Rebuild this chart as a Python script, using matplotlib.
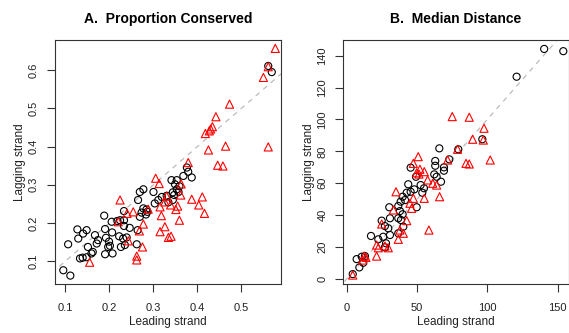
import matplotlib
matplotlib.use("Agg")
import matplotlib.pyplot as plt
import numpy as np

plt.rcParams['font.family'] = ['Liberation Sans', 'DejaVu Sans']

# Panel A: proportion conserved (leading, lagging)
a_circ_lead = [0.561, 0.569, 0.376, 0.379, 0.368, 0.387, 0.341, 0.353, 0.349, 0.359, 0.353, 0.344, 0.357,
               0.347, 0.330, 0.319, 0.311, 0.334, 0.344, 0.300, 0.303, 0.277, 0.269, 0.265, 0.277, 0.284,
               0.273, 0.283, 0.286, 0.269, 0.233, 0.224, 0.218, 0.205, 0.233, 0.188, 0.233, 0.246, 0.264,
               0.206, 0.190, 0.222, 0.239, 0.231, 0.192, 0.199, 0.201, 0.197, 0.226, 0.235, 0.262, 0.207,
               0.190, 0.167, 0.174, 0.171, 0.151, 0.162, 0.159, 0.148, 0.139, 0.133, 0.148, 0.140, 0.127,
               0.129, 0.106, 0.095, 0.111]
a_circ_lag = [0.611, 0.595, 0.345, 0.334, 0.323, 0.319, 0.312, 0.312, 0.301, 0.296, 0.288, 0.280, 0.281,
              0.273, 0.271, 0.268, 0.260, 0.254, 0.260, 0.281, 0.251, 0.288, 0.281, 0.260, 0.238, 0.235,
              0.227, 0.222, 0.229, 0.216, 0.231, 0.207, 0.205, 0.203, 0.207, 0.219, 0.192, 0.187, 0.181,
              0.175, 0.184, 0.165, 0.162, 0.159, 0.161, 0.151, 0.140, 0.137, 0.137, 0.142, 0.144, 0.120,
              0.118, 0.168, 0.155, 0.146, 0.137, 0.124, 0.120, 0.110, 0.109, 0.107, 0.181, 0.172, 0.183,
              0.159, 0.144, 0.076, 0.062]
a_tri_lead = [0.577, 0.561, 0.550, 0.473, 0.442, 0.434, 0.430, 0.427, 0.418, 0.425, 0.464, 0.561, 0.379,
              0.446, 0.458, 0.305, 0.313, 0.363, 0.362, 0.330, 0.387, 0.411, 0.403, 0.416, 0.359, 0.355,
              0.351, 0.339, 0.326, 0.315, 0.318, 0.326, 0.315, 0.334, 0.340, 0.288, 0.277, 0.268, 0.275,
              0.262, 0.262, 0.224, 0.240, 0.254, 0.220, 0.243, 0.155]
a_tri_lag = [0.657, 0.609, 0.581, 0.511, 0.478, 0.452, 0.446, 0.441, 0.434, 0.391, 0.401, 0.399, 0.358,
             0.351, 0.349, 0.317, 0.303, 0.302, 0.273, 0.270, 0.262, 0.268, 0.247, 0.225, 0.207, 0.244,
             0.235, 0.247, 0.255, 0.242, 0.219, 0.190, 0.177, 0.162, 0.165, 0.236, 0.197, 0.179, 0.137,
             0.113, 0.103, 0.260, 0.225, 0.229, 0.203, 0.153, 0.097]

# Panel B: median distance (leading, lagging)
b_circ_lead = [140.5, 154.1, 120.9, 65.9, 79.4, 96.5, 73.0, 63.0, 63.0, 45.5, 69.2, 69.2, 49.3, 62.3, 64.0,
               67.1, 52.6, 55.0, 53.8, 43.8, 42.7, 45.5, 48.1, 39.8, 38.4, 41.5, 49.8, 36.7, 30.3, 37.9,
               39.8, 36.7, 38.6, 30.8, 24.9, 27.2, 29.6, 30.8, 26.0, 22.5, 17.3, 28.0, 27.2, 36.7, 40.3,
               7.1, 10.7, 13.0, 11.8, 9.0, 4.3]
b_circ_lag = [144.2, 142.8, 126.8, 81.9, 81.3, 87.6, 75.0, 74.0, 71.0, 69.8, 70.0, 67.9, 64.1, 65.6, 64.1,
              61.0, 58.9, 56.9, 54.1, 59.4, 54.1, 54.7, 56.2, 51.6, 48.5, 49.5, 45.0, 45.8, 45.0, 42.6,
              40.6, 38.1, 37.0, 38.1, 36.6, 33.2, 31.8, 27.6, 26.5, 24.9, 27.0, 22.4, 19.9, 28.7, 32.8,
              12.5, 14.0, 14.4, 10.2, 7.3, 3.1]
b_tri_lead = [75.1, 87.2, 97.7, 89.6, 97.2, 78.9, 71.8, 50.9, 47.4, 84.9, 87.2, 102.1, 52.1, 55.2, 49.8,
              51.4, 57.6, 61.2, 64.0, 66.1, 55.2, 35.1, 47.4, 45.0, 46.2, 33.2, 42.7, 24.9, 58.5, 40.3,
              36.7, 37.9, 21.3, 22.5, 29.6, 27.2, 21.3, 12.5, 13.7, 11.4, 4.3]
b_tri_lag = [101.8, 101.4, 94.5, 87.6, 87.1, 81.3, 74.6, 76.7, 72.5, 72.5, 72.1, 74.6, 68.8, 67.3, 66.6,
             65.8, 62.1, 60.0, 58.9, 51.6, 50.6, 54.7, 50.6, 47.5, 44.3, 43.3, 36.6, 34.5, 30.7, 28.7,
             24.9, 30.7, 21.3, 19.6, 19.6, 20.7, 14.4, 14.4, 13.6, 11.9, 2.5]

titles = ["A.  Proportion Conserved", "B.  Median Distance"]
xlabel = "Leading strand"
ylabel = "Lagging strand"
a_xticks = [0.1, 0.2, 0.3, 0.4, 0.5]
a_yticks = [0.1, 0.2, 0.3, 0.4, 0.5, 0.6]
b_xticks = [0, 50, 100, 150]
b_yticks = [0, 20, 40, 60, 80, 100, 120, 140]

fig = plt.figure(figsize=(5.69, 3.33), dpi=100)
W, H = 569, 333
axA = fig.add_axes([54.5 / W, 1 - 284 / H, (281 - 54.5) / W, (284 - 40) / H])
axB = fig.add_axes([343.3 / W, 1 - 284 / H, (568.5 - 343.3) / W, (284 - 40) / H])

panels = [
    (axA, a_circ_lead, a_circ_lag, a_tri_lead, a_tri_lag, a_xticks, a_yticks, (0.075, 0.590), (0.040, 0.679)),
    (axB, b_circ_lead, b_circ_lag, b_tri_lead, b_tri_lag, b_xticks, b_yticks, (-2.4, 157.8), (-3.1, 149.8)),
]

for i, (ax, cx, cy, tx, ty, xt, yt, xl, yl) in enumerate(panels):
    ax.plot([-1000, 1000], [-1000, 1000], ls=(0, (4, 4)), color='#bbbbbb', lw=0.9, zorder=1)
    ax.scatter(cx, cy, s=26, marker='o', facecolors='none', edgecolors='black', linewidths=0.8, zorder=2)
    ax.scatter(tx, ty, s=34, marker='^', facecolors='none', edgecolors='#ff0000', linewidths=0.8, zorder=3)
    ax.set_xlim(*xl)
    ax.set_ylim(*yl)
    ax.set_xticks(xt)
    ax.set_yticks(yt)
    ax.set_xticklabels([f"{v:g}" for v in xt])
    ax.set_yticklabels([f"{v:g}" for v in yt], rotation=90, va='center')
    ax.tick_params(axis='both', direction='out', length=5.5, width=0.8, color='#333333',
                   labelsize=8, labelcolor='#222222')
    ax.tick_params(axis='x', pad=8.5)
    ax.tick_params(axis='y', pad=6)
    for sp in ax.spines.values():
        sp.set_linewidth(0.8)
        sp.set_color('#333333')
    ax.set_xlabel(xlabel, fontsize=8.5, labelpad=1.5, color='#222222')
    ax.set_ylabel(ylabel, fontsize=8.5, labelpad=2, color='#222222')
    ax.set_title(titles[i], fontsize=10, fontweight='bold', pad=12.5)

fig.savefig("out.png", dpi=100)
